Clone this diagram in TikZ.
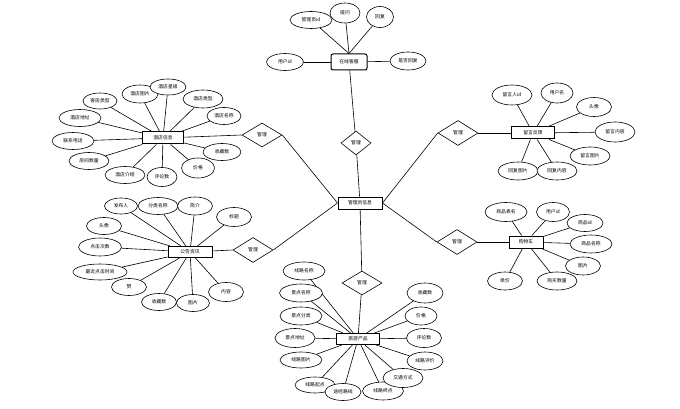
\documentclass[tikz,border=0pt]{standalone}
\usepackage{fontspec}
\setmainfont{Noto Sans CJK SC}
\usetikzlibrary{shapes.geometric}
\begin{document}
\begin{tikzpicture}[x=1pt,y=-1pt,
  attr/.style={draw,ellipse,fill=white,inner sep=0pt,font=\fontsize{4.8}{5}\selectfont,line width=0.6pt},
  ent/.style={draw,rectangle,fill=white,inner sep=0pt,font=\fontsize{4.8}{5}\selectfont,line width=1pt},
  rel/.style={draw,diamond,fill=white,inner sep=0pt,font=\fontsize{4.8}{5}\selectfont,line width=0.6pt},
  con/.style={line width=0.6pt}]
\useasboundingbox (0,0) rectangle (680,409);
% entities
\node[ent,rounded corners=2pt,minimum width=36pt,minimum height=16pt] (kf) at (349,62) {在线客服};
\node[ent,minimum width=44pt,minimum height=12pt] (gly) at (360,203) {管理员信息};
\node[ent,minimum width=41pt,minimum height=12pt] (jd) at (163,138) {酒店信息};
\node[ent,minimum width=44pt,minimum height=11pt] (gg) at (190,252) {公告资讯};
\node[ent,minimum width=43pt,minimum height=12pt] (ly) at (533,133) {留言反馈};
\node[ent,minimum width=34pt,minimum height=12pt] (gwc) at (526,242) {购物车};
\node[ent,minimum width=43pt,minimum height=11pt] (cp) at (358,339) {旅游产品};
% relations
\node[rel,minimum width=30pt,minimum height=24pt] (r1) at (356,143) {管理};
\node[rel,minimum width=40pt,minimum height=24pt] (r2) at (262,135) {管理};
\node[rel,minimum width=40pt,minimum height=25pt] (r3) at (253,250) {管理};
\node[rel,minimum width=40pt,minimum height=25pt] (r4) at (458,133) {管理};
\node[rel,minimum width=40pt,minimum height=25pt] (r5) at (457,242) {管理};
\node[rel,minimum width=40pt,minimum height=24pt] (r6) at (362,283) {管理};
% relation connectors
\draw[con] (gly) -- (r1); \draw[con] (r1) -- (kf);
\draw[con] (jd) -- (r2.west); \draw[con] (r2.east) -- (gly.west);
\draw[con] (gg) -- (r3.west); \draw[con] (r3.east) -- (gly.west);
\draw[con] (ly) -- (r4.east); \draw[con] (r4.west) -- (gly.east);
\draw[con] (gwc) -- (r5.east); \draw[con] (r5.west) -- (gly.east);
\draw[con] (gly) -- (r6); \draw[con] (r6) -- (cp);
% 在线客服 attributes
\foreach \n/\x/\y/\w/\h/\t in {k1/311/20/42/17/管理员id, k2/345/13/30/20/提问, k3/380/17/27/21/回复}{
  \node[attr,minimum width=\w pt,minimum height=\h pt] (\n) at (\x,\y) {\t};
  \draw[con] (\n) -- (kf.north);}
\foreach \n/\x/\y/\w/\h/\t in {k4/285/62/37/17/用户id, k5/408/61/36/18/是否回复}{
  \node[attr,minimum width=\w pt,minimum height=\h pt] (\n) at (\x,\y) {\t};
  \draw[con] (\n) -- (kf);}
% 酒店信息 attributes
\foreach \n/\x/\y/\w/\h/\t in {j1/100/101/34/16/客房类型, j2/140/94/36/18/酒店图片, j3/168/87/36/16/酒店星级, j4/203/99/40/18/酒店类型, j5/224/116/34/17/酒店名称, j6/80/118/42/17/酒店地址, j7/73/141/42/17/联系电话, j8/89/161/40/17/房间数量, j9/125/175/40/17/酒店介绍, j10/162/177/30/19/评论数, j11/198/168/33/20/价格, j12/222/152/38/17/收藏数}{
  \node[attr,minimum width=\w pt,minimum height=\h pt] (\n) at (\x,\y) {\t};
  \draw[con] (\n) -- (jd);}
% 公告资讯 attributes
\foreach \n/\x/\y/\w/\h/\t in {g1/121/206/33/16/发布人, g2/158/206/40/17/分类名称, g3/195/206/35/18/简介, g4/234/217/35/19/标题, g5/104/226/35/17/头像, g6/100/247/43/18/点击次数, g7/100/272/54/16/最近点击时间, g8/129/287/35/17/赞, g9/159/302/35/17/收藏数, g10/193/303/33/17/图片, g11/226/292/35/19/内容}{
  \node[attr,minimum width=\w pt,minimum height=\h pt] (\n) at (\x,\y) {\t};
  \draw[con] (\n) -- (gg);}
% 留言反馈 attributes
\foreach \n/\x/\y/\w/\h/\t in {l1/512/95/40/20/留言人id, l2/557/93/32/20/用户名, l3/594/107/35/19/头像, l4/615/132/40/20/留言内容, l5/590/156/40/18/留言图片, l6/518/171/40/18/回复图片, l7/557/171/40/18/回复内容}{
  \node[attr,minimum width=\w pt,minimum height=\h pt] (\n) at (\x,\y) {\t};
  \draw[con] (\n) -- (ly);}
% 购物车 attributes
\foreach \n/\x/\y/\w/\h/\t in {c1/506/212/42/19/商品表名, c2/553/212/33/19/用户id, c3/585/223/36/17/商品id, c4/591/244/42/18/商品名称, c5/583/266/35/18/图片, c6/557/281/40/18/购买数量, c7/505/281/35/18/单价}{
  \node[attr,minimum width=\w pt,minimum height=\h pt] (\n) at (\x,\y) {\t};
  \draw[con] (\n) -- (gwc);}
% 旅游产品 attributes
\foreach \n/\x/\y/\w/\h/\t in {p1/304/271/42/18/线路名称, p2/301/293/43/18/景点名称, p3/301/316/42/18/景点分类, p4/295/338/40/19/景点地址, p5/301/360/42/16/线路图片, p6/315/385/40/16/线路起点, p7/343/392/36/17/途经路线, p8/383/391/41/18/线路终点, p9/403/378/40/19/交通方式, p10/425/361/36/18/线路评价, p11/424/338/35/19/评论数, p12/421/316/32/18/价格, p13/425/293/36/20/收藏数}{
  \node[attr,minimum width=\w pt,minimum height=\h pt] (\n) at (\x,\y) {\t};
  \draw[con] (\n) -- (cp);}
\end{tikzpicture}
\end{document}
